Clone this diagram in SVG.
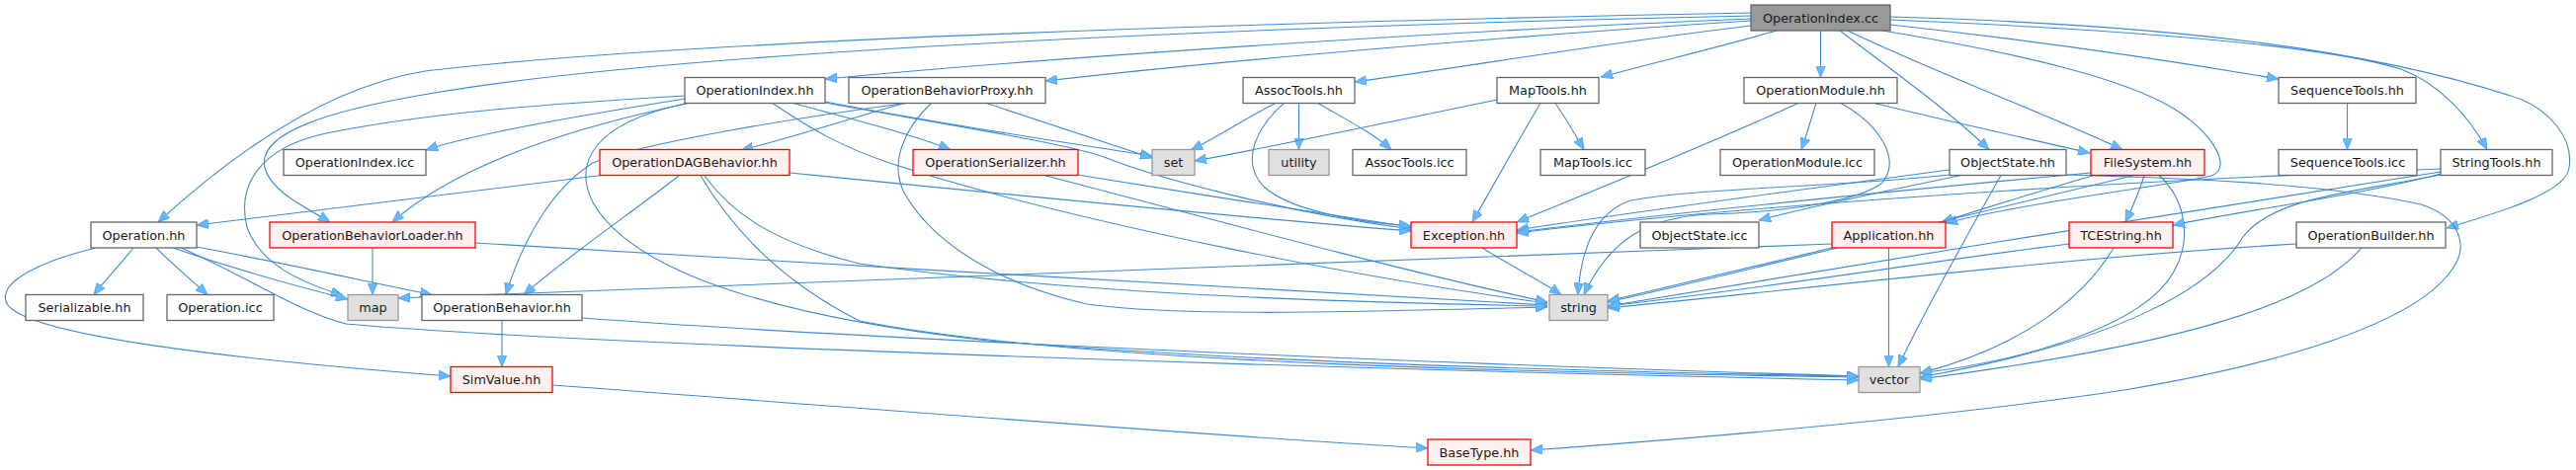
<svg xmlns="http://www.w3.org/2000/svg" width="2607" height="476" viewBox="0 0 2607 476">
<style>
text{font-family:"DejaVu Sans","Liberation Sans",sans-serif;font-size:12.8px;fill:#1a1a1a;text-anchor:middle}
.n rect{fill:#ffffff;stroke:#666666;stroke-width:1.3}
.r rect{fill:#fff0f0;stroke:#ff0000;stroke-width:1.3}
.g rect{fill:#e0e0e0;stroke:#999999;stroke-width:1.3}
.root rect{fill:#999999;stroke:#666666;stroke-width:1.3}
#edges path{fill:none;stroke:#3d8bd8;stroke-width:1.1;marker-end:url(#a)}
</style>
<defs>
<marker id="a" viewBox="0 0 12 10" refX="12" refY="5" markerWidth="12" markerHeight="10" markerUnits="userSpaceOnUse" orient="auto"><path d="M0,0 L12,5 L0,10 z" fill="#63b8ff" stroke="#4a9ae6" stroke-width="0.7"/></marker>
</defs>
<rect width="2607" height="476" fill="#ffffff"/>
<g id="edges">
<path d="M1772,13 C1300,22 700,40 430,72 C320,90 220,170 160,225"/>
<path d="M1772,16 C1300,26 700,50 440,94 C330,112 260,135 268,170 C275,195 310,210 334,225"/>
<path d="M1772,19 C1500,30 1100,55 835,80"/>
<path d="M1772,21 C1550,35 1250,60 1058,82"/>
<path d="M1772,26 C1650,40 1500,65 1371,83"/>
<path d="M1798,31 C1750,45 1680,62 1620,78"/>
<path d="M1842.5,31 L1842.5,78.5"/>
<path d="M1862,31 C1900,60 1970,110 2013,151.5"/>
<path d="M1870,31 C1950,70 2070,115 2148,151.5"/>
<path d="M1905,31 C2050,55 2150,80 2200,110 C2240,135 2260,170 2238,178 C2200,187 2050,205 1969,226"/>
<path d="M1913,25 C2050,40 2200,62 2306,80"/>
<path d="M1913,20 C2150,30 2350,45 2430,70 C2470,85 2500,120 2517,151.5"/>
<path d="M1913,17 C2200,25 2400,50 2550,100 C2580,112 2605,140 2600,170 C2597,195 2530,215 2476,231"/>
<path d="M693,100 C600,115 480,135 431,152"/>
<path d="M699,104 C600,125 470,160 397,225"/>
<path d="M693,97 C560,105 440,113 330,135 C260,150 240,190 250,230 C262,265 300,285 347,299"/>
<path d="M835,103 C950,125 1080,145 1166,158"/>
<path d="M801,104 C860,120 920,135 962,151.5"/>
<path d="M835,104 C950,125 1080,145 1120,160 C1170,180 1300,215 1428,232"/>
<path d="M781,104 C820,130 850,148 900,165 C1100,230 1400,285 1566,307"/>
<path d="M693,105 C600,125 580,165 600,205 C640,275 780,320 1000,345 C1300,370 1700,378 1881,381"/>
<path d="M917,104 C860,120 800,140 750,152"/>
<path d="M920,104 C800,120 650,145 600,165 C560,190 530,240 512,298.5"/>
<path d="M997,104 C1060,125 1120,145 1166,160"/>
<path d="M943,104 C915,130 900,165 915,195 C940,240 1000,285 1100,308 C1200,322 1400,315 1566,311"/>
<path d="M377,251 L377,298.5"/>
<path d="M481,246 C800,265 1300,295 1566,309"/>
<path d="M613,177 C500,192 350,210 199,228"/>
<path d="M687,178 C640,215 580,255 530,298.5"/>
<path d="M799,175 C1000,195 1250,220 1428,234"/>
<path d="M713,178 C740,215 780,245 870,267 C1100,300 1400,307 1566,310"/>
<path d="M709,178 C740,230 790,285 870,325 C1100,370 1600,378 1881,382"/>
<path d="M1090,177 C1200,195 1330,215 1428,230"/>
<path d="M1055,177 C1200,215 1400,270 1566,306"/>
<path d="M1292,104 C1260,120 1230,140 1205,152"/>
<path d="M1314.5,104.5 L1314.5,151.5"/>
<path d="M1333,104 C1360,120 1390,135 1408,151.5"/>
<path d="M1300,104 C1270,130 1255,165 1280,190 C1310,215 1380,225 1428,229"/>
<path d="M1515,101 C1400,125 1280,150 1209,163"/>
<path d="M1574,104.5 C1585,120 1595,138 1603,151.5"/>
<path d="M1559,104.5 C1535,145 1510,190 1490,225"/>
<path d="M1838,104.5 C1833,120 1828,138 1823,151.5"/>
<path d="M1897,104.5 C1960,120 2050,140 2115,155"/>
<path d="M1820,104.5 C1720,150 1620,190 1535,225"/>
<path d="M1863,104.5 C1900,125 1925,160 1905,185 C1880,205 1800,215 1730,217 C1670,220 1630,240 1603,298.5"/>
<path d="M1985,177.5 C1900,195 1830,210 1780,223"/>
<path d="M1973,172 C1800,195 1650,215 1535,233"/>
<path d="M1973,177 C1850,190 1720,190 1650,203 C1615,215 1600,250 1597,298.5"/>
<path d="M2025,177.5 C1990,240 1950,310 1921,371.5"/>
<path d="M2091,177 C2200,180 2350,185 2450,207 C2490,220 2500,250 2480,275 C2440,330 2300,370 2150,395 C1950,425 1700,445 1549,456"/>
<path d="M2116,175 C1900,195 1700,215 1535,235"/>
<path d="M2119,177.5 C2060,195 2010,210 1965,225"/>
<path d="M2170,177.5 C2165,195 2158,210 2151,225"/>
<path d="M2160,177.5 C2000,215 1800,265 1627,305"/>
<path d="M2185,177.5 C2210,200 2220,240 2200,275 C2170,330 2050,365 1943,378"/>
<path d="M2470,176 C2400,195 2280,212 2199,228"/>
<path d="M2470,174 C2200,215 1900,265 1627,310"/>
<path d="M2470,177 C2380,195 2300,200 2270,240 C2240,290 2150,345 1943,382"/>
<path d="M2470,171 C2100,185 1750,210 1535,236"/>
<path d="M2324,247 C2100,260 1850,290 1627,312"/>
<path d="M2390,251 C2340,310 2200,350 1943,384"/>
<path d="M135,251 C120,270 105,285 95,298.5"/>
<path d="M158,251 C175,268 195,285 210,298.5"/>
<path d="M175,251 C230,270 300,290 352,303"/>
<path d="M199,250 C280,265 370,285 437,298.5"/>
<path d="M183,251 C250,280 300,315 350,328 C600,350 1400,375 1881,385"/>
<path d="M97,251 C40,265 0,285 6,305 C15,340 250,365 456,381"/>
<path d="M1500,251 C1530,270 1560,285 1580,298.5"/>
<path d="M1911.5,251 L1911.5,371.5"/>
<path d="M1860,251 C1780,270 1700,290 1627,306"/>
<path d="M1854,247 C1400,265 800,285 403,302"/>
<path d="M2094,247 C1950,265 1800,290 1627,310"/>
<path d="M2139,251 C2110,300 2050,350 1943,378"/>
<path d="M508,324.5 L508,371.5"/>
<path d="M589,322 C900,345 1500,370 1881,381"/>
<path d="M559,390 C900,415 1200,440 1445,454"/>
<path d="M2375.5,104.5 L2375.5,151.5"/>
</g>
<g id="node-cc" class="root"><rect x="1772" y="5" width="141" height="26"/><text x="1842.5" y="22.5">OperationIndex.cc</text></g>
<g id="node-oih" class="n"><rect x="693" y="78.5" width="142" height="26"/><text x="764" y="96">OperationIndex.hh</text></g>
<g id="node-obp" class="n"><rect x="859" y="78.5" width="199" height="26"/><text x="958.5" y="96">OperationBehaviorProxy.hh</text></g>
<g id="node-ath" class="n"><rect x="1258" y="78.5" width="113" height="26"/><text x="1314.5" y="96">AssocTools.hh</text></g>
<g id="node-mth" class="n"><rect x="1515" y="78.5" width="103" height="26"/><text x="1566.5" y="96">MapTools.hh</text></g>
<g id="node-omh" class="n"><rect x="1765" y="78.5" width="155" height="26"/><text x="1842.5" y="96">OperationModule.hh</text></g>
<g id="node-sth" class="n"><rect x="2306" y="78.5" width="139" height="26"/><text x="2375.5" y="96">SequenceTools.hh</text></g>
<g id="node-oii" class="n"><rect x="287" y="151.5" width="144" height="26"/><text x="359" y="169">OperationIndex.icc</text></g>
<g id="node-odag" class="r"><rect x="607" y="151.5" width="192" height="26"/><text x="703" y="169">OperationDAGBehavior.hh</text></g>
<g id="node-oser" class="r"><rect x="924" y="151.5" width="167" height="26"/><text x="1007.5" y="169">OperationSerializer.hh</text></g>
<g id="node-set" class="g"><rect x="1166" y="151.5" width="43" height="26"/><text x="1187.5" y="169">set</text></g>
<g id="node-utility" class="g"><rect x="1284" y="151.5" width="61" height="26"/><text x="1314.5" y="169">utility</text></g>
<g id="node-ati" class="n"><rect x="1369" y="151.5" width="115" height="26"/><text x="1426.5" y="169">AssocTools.icc</text></g>
<g id="node-mti" class="n"><rect x="1559" y="151.5" width="106" height="26"/><text x="1612" y="169">MapTools.icc</text></g>
<g id="node-omi" class="n"><rect x="1741" y="151.5" width="156" height="26"/><text x="1819" y="169">OperationModule.icc</text></g>
<g id="node-osh" class="n"><rect x="1973" y="151.5" width="118" height="26"/><text x="2032" y="169">ObjectState.hh</text></g>
<g id="node-fsh" class="r"><rect x="2116" y="151.5" width="115" height="26"/><text x="2173.5" y="169">FileSystem.hh</text></g>
<g id="node-sti" class="n"><rect x="2306" y="151.5" width="140" height="26"/><text x="2376" y="169">SequenceTools.icc</text></g>
<g id="node-strt" class="n"><rect x="2470" y="151.5" width="113" height="26"/><text x="2526.5" y="169">StringTools.hh</text></g>
<g id="node-oph" class="n"><rect x="92" y="225" width="107" height="26"/><text x="145.5" y="242.5">Operation.hh</text></g>
<g id="node-obl" class="r"><rect x="273" y="225" width="208" height="26"/><text x="377" y="242.5">OperationBehaviorLoader.hh</text></g>
<g id="node-exc" class="r"><rect x="1428" y="225" width="107" height="26"/><text x="1481.5" y="242.5">Exception.hh</text></g>
<g id="node-osi" class="n"><rect x="1660" y="225" width="120" height="26"/><text x="1720" y="242.5">ObjectState.icc</text></g>
<g id="node-app" class="r"><rect x="1854" y="225" width="115" height="26"/><text x="1911.5" y="242.5">Application.hh</text></g>
<g id="node-tce" class="r"><rect x="2094" y="225" width="105" height="26"/><text x="2146.5" y="242.5">TCEString.hh</text></g>
<g id="node-obh" class="n"><rect x="2324" y="225" width="151" height="26"/><text x="2399.5" y="242.5">OperationBuilder.hh</text></g>
<g id="node-ser" class="n"><rect x="26" y="298.5" width="119" height="26"/><text x="85.5" y="316">Serializable.hh</text></g>
<g id="node-opi" class="n"><rect x="169" y="298.5" width="108" height="26"/><text x="223" y="316">Operation.icc</text></g>
<g id="node-map" class="g"><rect x="352" y="298.5" width="51" height="26"/><text x="377.5" y="316">map</text></g>
<g id="node-obeh" class="n"><rect x="427" y="298.5" width="162" height="26"/><text x="508" y="316">OperationBehavior.hh</text></g>
<g id="node-string" class="g"><rect x="1568" y="298.5" width="59" height="26"/><text x="1597.5" y="316">string</text></g>
<g id="node-simv" class="r"><rect x="456" y="371.5" width="103" height="26"/><text x="507.5" y="389">SimValue.hh</text></g>
<g id="node-vector" class="g"><rect x="1881" y="371.5" width="62" height="26"/><text x="1912" y="389">vector</text></g>
<g id="node-bt" class="r"><rect x="1445" y="445" width="104" height="26"/><text x="1497" y="462.5">BaseType.hh</text></g>
</svg>
